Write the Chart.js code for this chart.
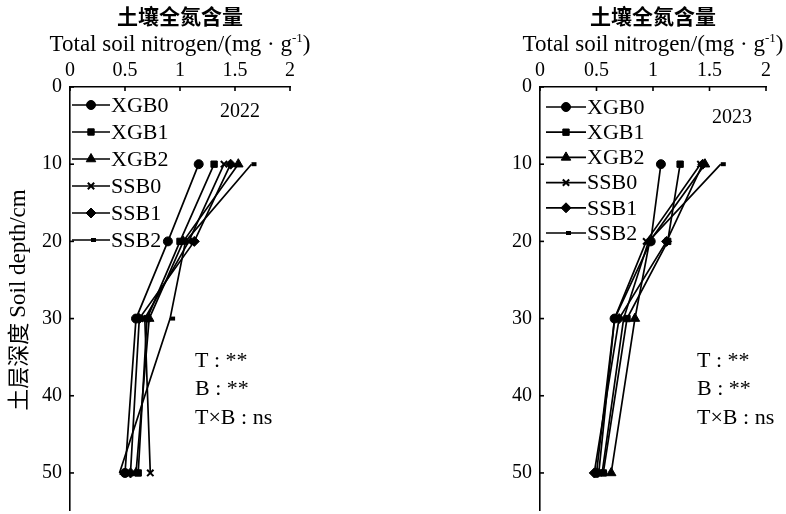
<!DOCTYPE html>
<html><head><meta charset="utf-8">
<script src="https://cdn.jsdelivr.net/npm/chart.js@4/dist/chart.umd.min.js"></script>
<style>
body{margin:0;background:#fff;}
#wrap{position:relative;width:786px;height:514px;}
.pane{position:absolute;top:0;width:393px;height:514px;}
</style>
</head><body>
<div id="wrap">
<div class="pane" style="left:0"><canvas id="c1" width="393" height="514"></canvas></div>
<div class="pane" style="left:393px"><canvas id="c2" width="393" height="514"></canvas></div>
</div>
<script>
// ---- data ----
const seriesNames = ['XGB0','XGB1','XGB2','SSB0','SSB1','SSB2'];
const markerStyles = ['circle','rect','triangle','crossRot','rectRot','dash'];
const depths = [10, 20, 30, 50];
const xTicks = [0, 0.5, 1, 1.5, 2];
const yTicks = [0, 10, 20, 30, 40, 50];
const years = ['2022', '2023'];
const statLines = ['T : **', 'B : **', 'T×B : ns'];

// Total soil nitrogen (mg/g) at depths 10, 20, 30, 50 cm
const y2022_XGB0 = [1.17, 0.89, 0.60, 0.50];
const y2022_XGB1 = [1.31, 1.00, 0.70, 0.62];
const y2022_XGB2 = [1.53, 1.03, 0.72, 0.60];
const y2022_SSB0 = [1.40, 1.08, 0.68, 0.73];
const y2022_SSB1 = [1.46, 1.13, 0.63, 0.55];
const y2022_SSB2 = [1.65, 1.05, 0.91, 0.45];

const y2023_XGB0 = [1.07, 0.98, 0.66, 0.50];
const y2023_XGB1 = [1.24, 1.13, 0.77, 0.56];
const y2023_XGB2 = [1.46, 0.97, 0.84, 0.63];
const y2023_SSB0 = [1.42, 0.94, 0.66, 0.52];
const y2023_SSB1 = [1.44, 1.12, 0.70, 0.48];
const y2023_SSB2 = [1.60, 0.96, 0.74, 0.55];

const data2022 = [y2022_XGB0, y2022_XGB1, y2022_XGB2, y2022_SSB0, y2022_SSB1, y2022_SSB2];
const data2023 = [y2023_XGB0, y2023_XGB1, y2023_XGB2, y2023_SSB0, y2023_SSB1, y2023_SSB2];

// ---- styling ----
const SERIF = '"Liberation Serif", "Times New Roman", serif';
const CJK = '"Noto Sans CJK SC", sans-serif';
const markerRadius = [4.5, 4.5, 5.5, 4.5, 5, 5];
const markerBorder = [1, 1, 1, 2, 1, 4];

function buildDatasets(vals) {
  return seriesNames.map((name, i) => ({
    label: name,
    data: depths.map((d, k) => ({ x: vals[i][k], y: d })),
    showLine: true,
    borderColor: '#000',
    borderWidth: 1.7,
    backgroundColor: '#000',
    pointBackgroundColor: '#000',
    pointBorderColor: '#000',
    pointStyle: markerStyles[i],
    pointRadius: markerRadius[i],
    pointBorderWidth: markerBorder[i],
    tension: 0
  }));
}

const extras = {
  id: 'extras',
  afterDraw(chart, args, o) {
    const ctx = chart.ctx, ca = chart.chartArea;
    const xs = chart.scales.x, ys = chart.scales.y;
    ctx.save();
    ctx.strokeStyle = '#000'; ctx.fillStyle = '#000'; ctx.lineWidth = 1.6;
    // inward ticks
    xTicks.forEach(v => { const p = xs.getPixelForValue(v); ctx.beginPath(); ctx.moveTo(p, ca.top); ctx.lineTo(p, ca.top + 4); ctx.stroke(); });
    yTicks.forEach(v => { const p = ys.getPixelForValue(v); ctx.beginPath(); ctx.moveTo(ca.left, p); ctx.lineTo(ca.left + 4, p); ctx.stroke(); });
    // legend
    chart.data.datasets.forEach((ds, i) => {
      const y = o.legY0 + i * o.legDy;
      const x0 = ca.left + o.legX0, x1 = ca.left + o.legX1;
      ctx.lineWidth = 1.7;
      ctx.beginPath(); ctx.moveTo(x0, y); ctx.lineTo(x1, y); ctx.stroke();
      ctx.lineWidth = ds.pointBorderWidth;
      Chart.helpers.drawPoint(ctx, { pointStyle: ds.pointStyle, radius: ds.pointRadius, borderWidth: ds.pointBorderWidth, rotation: 0 }, (x0 + x1) / 2, y);
      ctx.font = '22px ' + SERIF; ctx.textBaseline = 'middle'; ctx.textAlign = 'left';
      ctx.fillText(ds.label, x1 + 1, y + 1);
    });
    // titles
    const cx = (ca.left + ca.right) / 2;
    ctx.textAlign = 'center'; ctx.textBaseline = 'middle';
    ctx.font = 'bold 21px ' + CJK;
    ctx.fillText('土壤全氮含量', cx, 16);
    const t1 = 'Total soil nitrogen/(mg · g', t2 = '-1', t3 = ')';
    ctx.font = '23px ' + SERIF; const w1 = ctx.measureText(t1).width, w3 = ctx.measureText(t3).width;
    ctx.font = '13px ' + SERIF; const w2 = ctx.measureText(t2).width;
    let sx = cx - (w1 + w2 + w3) / 2;
    ctx.textAlign = 'left'; ctx.textBaseline = 'alphabetic';
    ctx.font = '23px ' + SERIF; ctx.fillText(t1, sx, 51); sx += w1;
    ctx.font = '13px ' + SERIF; ctx.fillText(t2, sx, 42); sx += w2;
    ctx.font = '23px ' + SERIF; ctx.fillText(t3, sx, 51);
    // y title rotated
    ctx.save();
    ctx.translate(o.yTitleX, 300);
    ctx.rotate(-Math.PI / 2);
    const a = '土层深度 ', b = 'Soil depth/cm';
    ctx.font = '22px ' + CJK; const wa = ctx.measureText(a).width;
    ctx.font = '23px ' + SERIF; const wb = ctx.measureText(b).width;
    ctx.textBaseline = 'middle';
    let tx = -(wa + wb) / 2;
    ctx.font = '22px ' + CJK; ctx.fillText(a, tx, 0); tx += wa;
    ctx.font = '23px ' + SERIF; ctx.fillText(b, tx, 1);
    ctx.restore();
    // year
    ctx.font = '20px ' + SERIF; ctx.textAlign = 'left'; ctx.textBaseline = 'middle';
    ctx.fillText(o.year, ca.left + o.yearDx, o.yearY);
    // stats
    ctx.font = '22px ' + SERIF;
    statLines.forEach((s, i) => ctx.fillText(s, ca.left + o.statDx, o.statY0 + i * 28.5));
    ctx.restore();
  }
};

function makeChart(id, vals, cfg) {
  return new Chart(document.getElementById(id), {
    type: 'scatter',
    data: { datasets: buildDatasets(vals) },
    options: {
      responsive: false,
      animation: false,
      layout: { autoPadding: false, padding: { left: 0, top: 0, right: cfg.padRight, bottom: 4 } },
      plugins: { legend: { display: false }, tooltip: { enabled: false }, extras: cfg },
      scales: {
        x: {
          type: 'linear', position: 'top', min: 0, max: 2,
          afterBuildTicks: s => { s.ticks = xTicks.map(v => ({ value: v })); },
          afterFit: s => { s.height = 87; s.paddingLeft = 0; s.paddingRight = 0; },
          ticks: { color: '#000', font: { family: SERIF, size: 20 }, padding: 4, maxRotation: 0, callback: v => String(v) },
          grid: { display: false, drawTicks: false },
          border: { display: true, color: '#000', width: 1.6 }
        },
        y: {
          type: 'linear', reverse: true, min: 0, max: 54.8,
          afterBuildTicks: s => { s.ticks = yTicks.map(v => ({ value: v })); },
          afterFit: s => { s.width = cfg.left; s.paddingTop = 0; s.paddingBottom = 0; },
          ticks: { color: '#000', font: { family: SERIF, size: 20 }, padding: 8, callback: v => String(v) },
          grid: { display: false, drawTicks: false },
          border: { display: true, color: '#000', width: 1.6 }
        }
      }
    },
    plugins: [extras]
  });
}

makeChart('c1', data2022, { left: 70, padRight: 103, legY0: 105, legDy: 27, legX0: 2, legX1: 40, yTitleX: 18, year: years[0], yearDx: 150, yearY: 112, statDx: 125, statY0: 361 });
makeChart('c2', data2023, { left: 147, padRight: 20, legY0: 107, legDy: 25.2, legX0: 6, legX1: 46, yTitleX: 488, year: years[1], yearDx: 172, yearY: 118, statDx: 157, statY0: 361 });
</script>
</body></html>
